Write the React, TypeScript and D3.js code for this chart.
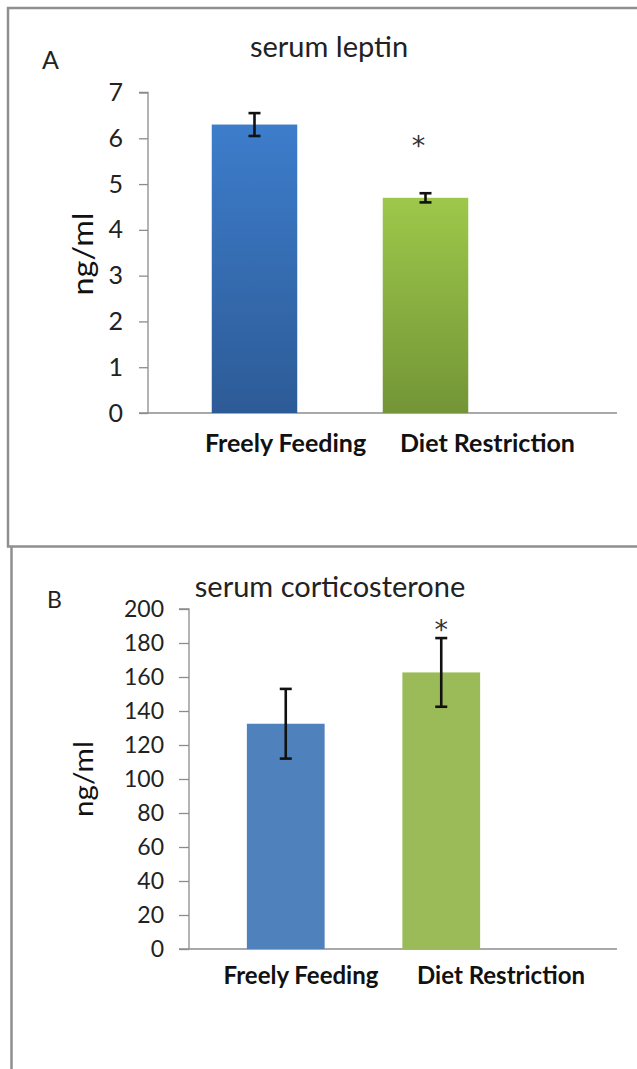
import React, { useEffect, useRef } from 'react';
import * as d3 from 'd3';

const categories = ['Freely Feeding', 'Diet Restriction'];

// panel A: serum leptin
const leptinMean = [6.3, 4.7];
const leptinErr = [0.25, 0.1];
const leptinTicks = [0, 1, 2, 3, 4, 5, 6, 7];

// panel B: serum corticosterone
const corticoMean = [132.5, 162.7];
const corticoErr = [20.5, 20.2];
const corticoTicks = [0, 20, 40, 60, 80, 100, 120, 140, 160, 180, 200];

const FONT = 'Lato, "Open Sans", sans-serif';

function drawPanel(svg, opt) {
  const g = svg.append('g');

  const y = d3.scaleLinear().domain([0, opt.yMax]).range([opt.y0, opt.y1]);
  const x = d3
    .scaleBand()
    .domain(categories)
    .range(opt.xRange)
    .paddingInner(0.5)
    .paddingOuter(0.25);
  const xl = d3.scalePoint().domain(categories).range(opt.labelRange);

  // axes
  const yAxis = g
    .append('g')
    .attr('transform', `translate(${opt.axisX},0)`)
    .call(
      d3.axisLeft(y)
        .tickValues(opt.ticks)
        .tickSize(opt.tickLen)
        .tickPadding(opt.tickPad)
        .tickFormat(d3.format('d'))
    );
  yAxis.select('.domain').attr('stroke', '#8c8c8c').attr('stroke-width', 1.3)
    .attr('d', `M-${opt.tickLen},${opt.y1}H0V${opt.y0}`);
  yAxis.selectAll('.tick line').attr('stroke', '#8c8c8c').attr('stroke-width', 1.3);
  yAxis
    .selectAll('.tick text')
    .attr('font-family', FONT)
    .attr('font-size', opt.tickFont)
    .attr('fill', '#222');

  g.append('line')
    .attr('x1', opt.axisX - opt.tickLen)
    .attr('x2', opt.axisEnd)
    .attr('y1', opt.y0)
    .attr('y2', opt.y0)
    .attr('stroke', '#8c8c8c')
    .attr('stroke-width', 1.3);

  // bars
  g.selectAll('rect.bar')
    .data(opt.means)
    .enter()
    .append('rect')
    .attr('class', 'bar')
    .attr('x', (d, i) => x(categories[i]))
    .attr('width', x.bandwidth())
    .attr('y', d => y(d))
    .attr('height', d => opt.y0 - y(d))
    .attr('fill', (d, i) => opt.fills[i]);

  // error bars
  const cx = i => x(categories[i]) + x.bandwidth() / 2;
  const eb = g
    .selectAll('g.err')
    .data(opt.means)
    .enter()
    .append('g')
    .attr('stroke', '#111')
    .attr('stroke-width', 2.6);
  eb.append('line')
    .attr('x1', (d, i) => cx(i))
    .attr('x2', (d, i) => cx(i))
    .attr('y1', (d, i) => y(d - opt.errs[i]))
    .attr('y2', (d, i) => y(d + opt.errs[i]));
  [-1, 1].forEach(s => {
    eb.append('line')
      .attr('x1', (d, i) => cx(i) - 6)
      .attr('x2', (d, i) => cx(i) + 6)
      .attr('y1', (d, i) => y(d + s * opt.errs[i]))
      .attr('y2', (d, i) => y(d + s * opt.errs[i]));
  });

  // asterisk
  g.append('text')
    .attr('x', cx(1) + opt.starDx)
    .attr('y', y(opt.starY))
    .attr('text-anchor', 'middle')
    .attr('dominant-baseline', 'central')
    .attr('font-family', '"DejaVu Sans", sans-serif')
    .attr('font-size', 27)
    .attr('fill', '#333')
    .text('*');

  // category labels
  g.selectAll('text.cat')
    .data(categories)
    .enter()
    .append('text')
    .attr('x', d => xl(d))
    .attr('y', opt.labelY)
    .attr('text-anchor', 'middle')
    .attr('font-family', FONT)
    .attr('font-weight', 'bold')
    .attr('font-size', opt.catFont)
    .attr('fill', '#111')
    .text(d => d);

  // y title
  g.append('text')
    .attr('transform', `translate(${opt.yTitleX},${opt.yTitleY}) rotate(-90)`)
    .attr('text-anchor', 'middle')
    .attr('font-family', FONT)
    .attr('font-size', opt.yTitleFont)
    .attr('textLength', opt.yTitleLen)
    .attr('lengthAdjust', 'spacingAndGlyphs')
    .attr('fill', '#111')
    .text('ng/ml');

  // title and letter
  g.append('text')
    .attr('x', opt.titleX)
    .attr('y', opt.titleY)
    .attr('text-anchor', 'middle')
    .attr('font-family', FONT)
    .attr('font-size', opt.titleFont)
    .attr('fill', '#222')
    .text(opt.title);
  g.append('text')
    .attr('x', opt.letterX)
    .attr('y', opt.letterY)
    .attr('font-family', FONT)
    .attr('font-size', opt.letterFont)
    .attr('fill', '#222')
    .text(opt.letter);
}

export default function App() {
  const ref = useRef(null);

  useEffect(() => {
    const svg = d3.select(ref.current);
    svg.selectAll('*').remove();

    const defs = svg.append('defs');
    const grad = (id, top, bottom) => {
      const lg = defs.append('linearGradient').attr('id', id).attr('x1', 0).attr('y1', 0).attr('x2', 0).attr('y2', 1);
      lg.append('stop').attr('offset', '0%').attr('stop-color', top);
      lg.append('stop').attr('offset', '100%').attr('stop-color', bottom);
    };
    grad('gBlue', '#3d7dcb', '#2d5b97');
    grad('gGreen', '#9dc84a', '#739537');

    // frames
    svg.append('path')
      .attr('d', 'M640,8H8V546.5H640')
      .attr('stroke', '#8f8f8f')
      .attr('stroke-width', 2.5)
      .attr('fill', 'none');
    svg.append('path')
      .attr('d', 'M11.5,546.5V1070')
      .attr('stroke', '#8f8f8f')
      .attr('stroke-width', 2.5)
      .attr('fill', 'none');

    drawPanel(svg, {
      yMax: 7,
      y0: 413,
      y1: 92.5,
      ticks: leptinTicks,
      means: leptinMean,
      errs: leptinErr,
      axisX: 148,
      axisEnd: 617,
      tickLen: 9,
      tickPad: 16,
      tickFont: 25,
      xRange: [169, 511],
      labelRange: [285.5, 487.5],
      labelY: 452,
      catFont: 25,
      fills: ['url(#gBlue)', 'url(#gGreen)'],
      starDx: -7,
      starY: 5.85,
      yTitleX: 93,
      yTitleY: 254,
      yTitleFont: 28,
      yTitleLen: 83,
      title: 'serum leptin',
      titleX: 329,
      titleY: 57,
      titleFont: 29,
      letter: 'A',
      letterX: 42,
      letterY: 69,
      letterFont: 25,
    });

    drawPanel(svg, {
      yMax: 200,
      y0: 949,
      y1: 609,
      ticks: corticoTicks,
      means: corticoMean,
      errs: corticoErr,
      axisX: 189,
      axisEnd: 617,
      tickLen: 10,
      tickPad: 15,
      tickFont: 23,
      xRange: [208, 519],
      labelRange: [301, 501],
      labelY: 984,
      catFont: 24,
      fills: ['#4f81bd', '#9bbb59'],
      starDx: 0,
      starY: 188,
      yTitleX: 93,
      yTitleY: 779,
      yTitleFont: 27,
      yTitleLen: 76,
      title: 'serum corticosterone',
      titleX: 330,
      titleY: 597,
      titleFont: 29,
      letter: 'B',
      letterX: 47,
      letterY: 608,
      letterFont: 23,
    });
  }, []);

  return (
    <svg
      ref={ref}
      width={637}
      height={1069}
      style={{ position: 'absolute', left: 0, top: 0, background: '#fff' }}
    />
  );
}
